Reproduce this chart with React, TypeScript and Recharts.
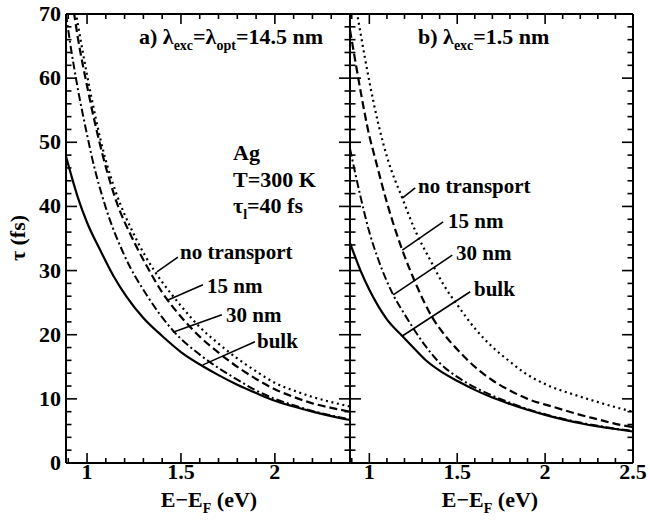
import React from "react";
import { LineChart, Line, XAxis, YAxis, ReferenceLine } from "recharts";

const FONT = "Liberation Serif, DejaVu Serif, serif";

// panel a) lambda_exc = lambda_opt = 14.5 nm   [E - EF (eV), tau (fs)]
const aNoTransport: [number, number][] = [
  [0.94, 70.3], [0.95, 68.6], [1.0, 60.5], [1.094, 47.8], [1.15, 42.5], [1.25, 35.6],
  [1.362, 29.8], [1.45, 26.3], [1.5, 24.5], [1.6, 21.2], [1.7, 18.6], [1.8, 16.3],
  [1.9, 14.3], [2.0, 12.5], [2.1, 11.3], [2.2, 10.3], [2.3, 9.5], [2.4, 8.8],
];
const a15nm: [number, number][] = [
  [0.93, 70.3], [0.95, 66.5], [1.0, 58.8], [1.085, 47.8], [1.15, 41.3], [1.25, 34.5],
  [1.32, 30.6], [1.4, 26.6], [1.5, 22.8], [1.6, 19.7], [1.7, 17.2], [1.8, 15.0],
  [1.9, 13.1], [2.0, 11.5], [2.1, 10.3], [2.2, 9.3], [2.3, 8.6], [2.4, 8.0],
];
const a30nm: [number, number][] = [
  [0.888, 70], [0.91, 65.5], [0.95, 58.5], [1.0, 51.2], [1.025, 47.8], [1.1, 39.8],
  [1.2, 32.3], [1.324, 25.9], [1.459, 20.6], [1.6, 16.9], [1.7, 14.8], [1.8, 13.0],
  [1.9, 11.3], [2.0, 10.0], [2.1, 9.0], [2.2, 8.1], [2.3, 7.4], [2.4, 6.8],
];
const aBulk: [number, number][] = [
  [0.888, 47.8], [0.95, 41.5], [1.0, 37.5], [1.07, 33.2], [1.14, 29.2], [1.211, 25.9],
  [1.3, 22.6], [1.4, 19.8], [1.5, 17.3], [1.61, 15.2], [1.7, 13.7], [1.8, 12.2],
  [1.9, 10.9], [2.0, 9.7], [2.1, 8.8], [2.2, 8.0], [2.3, 7.3], [2.4, 6.7],
];

// panel b) lambda_exc = 1.5 nm
const bNoTransport: [number, number][] = [
  [0.934, 69.5], [0.95, 67], [1.0, 59.5], [1.05, 53], [1.104, 47.4], [1.1875, 41.3],
  [1.26, 36.3], [1.347, 31.6], [1.42, 27.9], [1.507, 24.4], [1.6, 21.0], [1.7, 18.1],
  [1.8, 15.8], [1.886, 14.0], [2.0, 12.3], [2.17, 10.6], [2.3, 9.5], [2.4, 8.7], [2.5, 8.0],
];
const b15nm: [number, number][] = [
  [0.89, 67.5], [0.905, 65.1], [0.95, 58], [1.0, 51], [1.034, 47.4], [1.1, 40.6],
  [1.1875, 33.2], [1.27, 27.6], [1.356, 22.8], [1.43, 19.9], [1.507, 17.5], [1.6, 15.0],
  [1.7, 12.9], [1.8, 11.3], [1.9, 10.0], [2.04, 8.8], [2.1, 8.3], [2.2, 7.5], [2.3, 6.8],
  [2.4, 6.1], [2.5, 5.6],
];
const b30nm: [number, number][] = [
  [0.89, 49], [0.95, 41.5], [1.0, 36], [1.05, 31.8], [1.136, 26.2], [1.2, 23.2],
  [1.318, 18.3], [1.4, 15.6], [1.507, 13.3], [1.6, 11.8], [1.7, 10.5], [1.8, 9.4],
  [1.9, 8.4], [2.0, 7.6], [2.1, 6.9], [2.2, 6.3], [2.3, 5.8], [2.4, 5.35], [2.5, 5.0],
];
const bBulk: [number, number][] = [
  [0.89, 34.3], [0.95, 30.0], [1.0, 27.0], [1.05, 24.5], [1.1, 22.4], [1.1875, 19.8],
  [1.25, 18.0], [1.318, 16.1], [1.4, 14.4], [1.507, 12.7], [1.6, 11.4], [1.7, 10.2],
  [1.79, 9.3], [1.9, 8.3], [2.0, 7.5], [2.1, 6.8], [2.2, 6.2], [2.3, 5.7], [2.4, 5.3], [2.5, 4.9],
];

// leader lines from labels to curves
const aLeaders = [
  [[1.484, 32.1], [1.372, 29.8]],
  [[1.617, 27.8], [1.431, 25.4]],
  [[1.718, 23.1], [1.457, 20.4]],
  [[1.894, 18.9], [1.617, 15.3]],
];
const bLeaders = [
  [[1.261, 42.9], [1.1875, 41.3]],
  [[1.42, 37.6], [1.1875, 33.2]],
  [[1.472, 32.4], [1.136, 26.2]],
  [[1.574, 26.7], [1.1875, 19.8]],
];

const yTicks = [0, 2, 4, 6, 8, 10, 12, 14, 16, 18, 20, 22, 24, 26, 28, 30, 32, 34, 36, 38,
  40, 42, 44, 46, 48, 50, 52, 54, 56, 58, 60, 62, 64, 66, 68, 70];
const aXTicks = [0.9, 1.0, 1.1, 1.2, 1.3, 1.4, 1.5, 1.6, 1.7, 1.8, 1.9, 2.0, 2.1, 2.2, 2.3, 2.4];
const bXTicks = [0.9, 1.0, 1.1, 1.2, 1.3, 1.4, 1.5, 1.6, 1.7, 1.8, 1.9, 2.0, 2.1, 2.2, 2.3, 2.4, 2.5];

const toPts = (arr: [number, number][]) => arr.map(([x, y]) => ({ x, y }));
const isMajor = (v: number, step: number) => Math.abs(v / step - Math.round(v / step)) < 1e-6;

const H = 528;

function XTick(props: any) {
  const { payload, edge, dir, label } = props;
  const x = payload.coordinate;
  const major = isMajor(payload.value, 0.5);
  const len = major ? 10 : 5;
  return (
    <g>
      <line x1={x} y1={edge} x2={x} y2={edge + dir * len} stroke="#000" strokeWidth={1.6} />
      {label && major && (
        <text x={x} y={edge + 16} textAnchor="middle" fontSize={22} fontFamily={FONT} fontWeight={700} fill="#000">
          {String(payload.value)}
        </text>
      )}
    </g>
  );
}

function YTick(props: any) {
  const { payload, edge, dir, label } = props;
  const y = payload.coordinate;
  const major = isMajor(payload.value, 10);
  const len = major ? 11 : 5.5;
  return (
    <g>
      <line x1={edge} y1={y} x2={edge + dir * len} y2={y} stroke="#000" strokeWidth={1.6} />
      {label && major && (
        <text x={edge - 5} y={y + 7} textAnchor="end" fontSize={22} fontFamily={FONT} fontWeight={700} fill="#000">
          {String(payload.value)}
        </text>
      )}
    </g>
  );
}

const axisLine = { stroke: "#000", strokeWidth: 2 };

function Panel(props: {
  domain: [number, number];
  ticks: number[];
  series: [number, number][][];
  leaders: number[][][];
  width: number;
  margin: { top: number; right: number; bottom: number; left: number };
  leftWidth: number;
  yLabels: boolean;
}) {
  const { domain, ticks, series, leaders, width, margin, leftWidth, yLabels } = props;
  const plotLeft = margin.left + leftWidth;
  const plotRight = width - margin.right - 1;
  const plotTop = margin.top + 1;
  const plotBottom = H - margin.bottom - 1;
  const styles = [
    { dash: "2 3.6", w: 2.2 },
    { dash: "8 4", w: 2.2 },
    { dash: "8 3 2 3", w: 2 },
    { dash: undefined, w: 2.2 },
  ];
  return (
    <LineChart width={width} height={H} margin={margin}>
      <XAxis xAxisId="b" dataKey="x" type="number" orientation="bottom" domain={domain}
        allowDataOverflow ticks={ticks} interval={0} height={1} tickSize={0} tickMargin={0}
        tickLine={false} axisLine={axisLine}
        tick={(p: any) => <XTick {...p} edge={plotBottom} dir={-1} label />} />
      <XAxis xAxisId="t" dataKey="x" type="number" orientation="top" domain={domain}
        allowDataOverflow ticks={ticks} interval={0} height={1} tickSize={0} tickMargin={0}
        tickLine={false} axisLine={axisLine}
        tick={(p: any) => <XTick {...p} edge={plotTop} dir={1} label={false} />} />
      <YAxis yAxisId="l" type="number" orientation="left" domain={[0, 70]} allowDataOverflow
        ticks={yTicks} interval={0} width={leftWidth} tickSize={0} tickMargin={0}
        tickLine={false} axisLine={axisLine}
        tick={(p: any) => <YTick {...p} edge={plotLeft} dir={1} label={yLabels} />} />
      <YAxis yAxisId="r" type="number" orientation="right" domain={[0, 70]} allowDataOverflow
        ticks={yTicks} interval={0} width={1} tickSize={0} tickMargin={0}
        tickLine={false} axisLine={axisLine}
        tick={(p: any) => <YTick {...p} edge={plotRight} dir={-1} label={false} />} />
      {series.map((s, i) => (
        <Line key={i} xAxisId="b" yAxisId="l" data={toPts(s)} dataKey="y" type="monotone"
          stroke="#000" strokeWidth={styles[i].w} strokeDasharray={styles[i].dash}
          dot={false} activeDot={false} isAnimationActive={false} />
      ))}
      {leaders.map((seg, i) => (
        <ReferenceLine key={"l" + i} xAxisId="b" yAxisId="l" ifOverflow="visible"
          segment={[{ x: seg[0][0], y: seg[0][1] }, { x: seg[1][0], y: seg[1][1] }]}
          stroke="#000" strokeWidth={1.6} />
      ))}
    </LineChart>
  );
}

function Sub({ children, size = 14 }: { children: React.ReactNode; size?: number }) {
  return <tspan fontSize={size} dy={6}>{children}</tspan>;
}

export default function App() {
  return (
    <div style={{ position: "absolute", left: 0, top: 0, width: 650, height: 528, background: "#fff" }}>
      <div style={{ position: "absolute", left: 0, top: 0 }}>
        <Panel domain={[0.888, 2.4]} ticks={aXTicks}
          series={[aNoTransport, a15nm, a30nm, aBulk]} leaders={aLeaders}
          width={352} margin={{ top: 13, right: 1, bottom: 64, left: 0 }} leftWidth={66} yLabels />
      </div>
      <div style={{ position: "absolute", left: 340, top: 0 }}>
        <Panel domain={[0.89, 2.5]} ticks={bXTicks}
          series={[bNoTransport, b15nm, b30nm, bBulk]} leaders={bLeaders}
          width={310} margin={{ top: 13, right: 16, bottom: 64, left: 9 }} leftWidth={1} yLabels={false} />
      </div>
      <svg width={650} height={528} style={{ position: "absolute", left: 0, top: 0, pointerEvents: "none" }}>
        <g fontFamily={FONT} fontWeight={700} fill="#000" fontSize={22}>
          <text x={139} y={44}>a) λ<Sub>exc</Sub><tspan dy={-6}>=λ</tspan><Sub>opt</Sub><tspan dy={-6}>=14.5 nm</tspan></text>
          <text x={418} y={44}>b) λ<Sub>exc</Sub><tspan dy={-6}>=1.5 nm</tspan></text>
          <text x={233} y={160}>Ag</text>
          <text x={233} y={187}>T=300 K</text>
          <text x={233} y={213}>τ<Sub>l</Sub><tspan dy={-6}>=40 fs</tspan></text>
        </g>
        <g fontFamily={FONT} fontWeight={700} fill="#000" fontSize={21}>
          <text x={180} y={259}>no transport</text>
          <text x={207} y={293}>15 nm</text>
          <text x={226} y={322}>30 nm</text>
          <text x={257} y={348}>bulk</text>
          <text x={418} y={193}>no transport</text>
          <text x={448} y={228}>15 nm</text>
          <text x={456} y={260}>30 nm</text>
          <text x={474} y={296}>bulk</text>
        </g>
        <g fontFamily={FONT} fontWeight={700} fill="#000" fontSize={22}>
          <text x={209} y={507} textAnchor="middle">E−E<Sub>F</Sub><tspan dy={-6}> (eV)</tspan></text>
          <text x={490} y={507} textAnchor="middle">E−E<Sub>F</Sub><tspan dy={-6}> (eV)</tspan></text>
          <text x={25} y={238} textAnchor="middle" transform="rotate(-90 25 238)">τ (fs)</text>
        </g>
      </svg>
    </div>
  );
}
